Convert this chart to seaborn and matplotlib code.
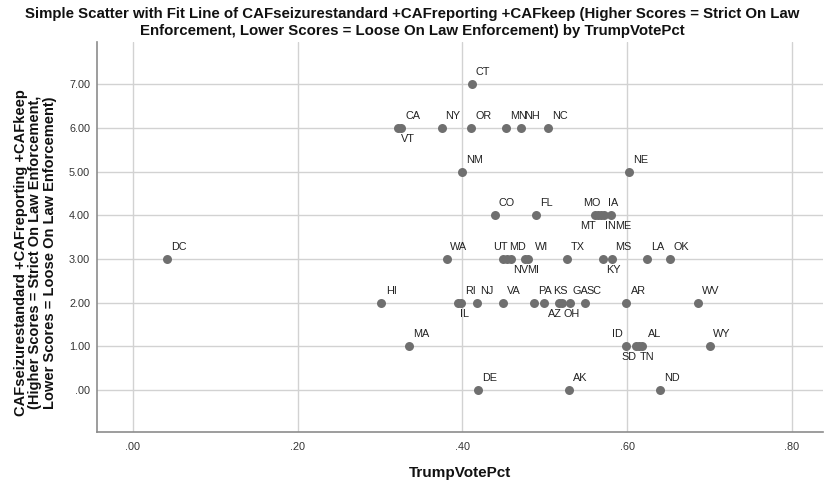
import matplotlib
matplotlib.use("Agg")
import matplotlib.pyplot as plt
import seaborn as sns
import pandas as pd
from matplotlib.ticker import FuncFormatter

states = ["CT",
          "CA", "VT", "NY", "OR", "MN", "NH", "NC",
          "NM", "NE",
          "CO", "FL", "MO", "MT", "IN", "ME", "IA",
          "DC", "WA", "UT", "NV", "MD", "MI", "WI", "TX", "KY", "MS", "LA", "OK",
          "HI", "IL", "RI", "NJ", "VA", "PA", "AZ", "KS", "OH", "GA", "SC", "AR", "WV",
          "MA", "ID", "SD", "TN", "AL", "WY",
          "DE", "AK", "ND"]
trump_pct = [0.4115,
             0.3260, 0.3220, 0.3748, 0.4108, 0.4536, 0.4714, 0.5046,
             0.3998, 0.6020,
             0.4394, 0.4900, 0.5609, 0.5645, 0.5682, 0.5718, 0.5803,
             0.0413, 0.3816, 0.4492, 0.4540, 0.4589, 0.4759, 0.4795, 0.5265, 0.5710, 0.5823, 0.6240, 0.6520,
             0.3010, 0.3945, 0.3982, 0.4172, 0.4496, 0.4867, 0.4989, 0.5170, 0.5210, 0.5306, 0.5487, 0.5990, 0.6860,
             0.3350, 0.5993, 0.6106, 0.6143, 0.6180, 0.7005,
             0.4188, 0.5290, 0.6398]
caf_score = [7,
             6, 6, 6, 6, 6, 6, 6,
             5, 5,
             4, 4, 4, 4, 4, 4, 4,
             3, 3, 3, 3, 3, 3, 3, 3, 3, 3, 3, 3,
             2, 2, 2, 2, 2, 2, 2, 2, 2, 2, 2, 2, 2,
             1, 1, 1, 1, 1, 1,
             0, 0, 0]

x_ticks = [0.0, 0.2, 0.4, 0.6, 0.8]
y_ticks = [0, 1, 2, 3, 4, 5, 6, 7]

title = ("Simple Scatter with Fit Line of CAFseizurestandard +CAFreporting +CAFkeep (Higher Scores = Strict On Law\n"
         "Enforcement, Lower Scores = Loose On Law Enforcement) by TrumpVotePct")
y_label = ("CAFseizurestandard +CAFreporting +CAFkeep\n(Higher Scores = Strict On Law Enforcement,\n"
           "Lower Scores = Loose On Law Enforcement)")
x_label = "TrumpVotePct"

# label placement (pixel offsets of label's left edge from point; 'a' above, 'b' below)
label_pos = {
    "CT": (4, "a"), "CA": (4, "a"), "VT": (3, "b"), "NY": (4, "a"), "OR": (4, "a"),
    "MN": (4, "a"), "NH": (3, "a"), "NC": (4, "a"), "NM": (4, "a"), "NE": (4, "a"),
    "CO": (4, "a"), "FL": (4, "a"), "MO": (-12, "a"), "MT": (-18, "b"), "IN": (4, "b"),
    "ME": (11, "b"), "IA": (-3, "a"),
    "DC": (4, "a"), "WA": (3, "a"), "UT": (-10, "a"), "NV": (6, "b"), "MD": (-2, "a"),
    "MI": (2, "b"), "WI": (7, "a"), "TX": (4, "a"), "KY": (3, "b"), "MS": (3, "a"),
    "LA": (4, "a"), "OK": (4, "a"),
    "HI": (5, "a"), "IL": (2, "b"), "RI": (4, "a"), "NJ": (4, "a"), "VA": (4, "a"),
    "PA": (4, "a"), "AZ": (4, "b"), "KS": (-6, "a"), "OH": (2, "b"), "GA": (3, "a"),
    "SC": (2, "a"), "AR": (5, "a"), "WV": (4, "a"),
    "MA": (4, "a"), "ID": (-14, "a"), "SD": (-14, "b"), "TN": (1, "b"), "AL": (6, "a"),
    "WY": (3, "a"),
    "DE": (4, "a"), "AK": (4, "a"), "ND": (4, "a"),
}

df = pd.DataFrame({"state": states, "TrumpVotePct": trump_pct, "CAF": caf_score})

sns.set_theme(style="white")
plt.rcParams["font.family"] = ["Liberation Sans", "DejaVu Sans"]

fig = plt.figure(figsize=(8.25, 4.83), dpi=100)
ax = fig.add_axes([97 / 825, 1 - 432 / 483, (823 - 97) / 825, (432 - 42) / 483])

ax.set_xlim(-0.0437, 0.838)
ax.set_ylim(-0.96, 7.97)
ax.set_xticks(x_ticks)
ax.set_yticks(y_ticks)
ax.xaxis.set_major_formatter(FuncFormatter(lambda v, p: f"{v:.2f}".replace("0.", ".", 1)))
ax.yaxis.set_major_formatter(FuncFormatter(lambda v, p: ".00" if v == 0 else f"{v:.2f}"))
ax.grid(True, color="#d2d2d2", linewidth=1.0)
ax.set_axisbelow(True)

sns.scatterplot(data=df, x="TrumpVotePct", y="CAF", ax=ax, color="#6f6f6f",
                s=42, linewidth=0, zorder=3, legend=False)

for s, xv, yv in zip(states, trump_pct, caf_score):
    dx, where = label_pos[s]
    dy = 12 if where == "a" else -11
    ax.annotate(s, (xv, yv), xytext=(dx, dy), textcoords="offset pixels",
                ha="left", va="center", fontsize=7.8, color="#222222", zorder=4)

for side in ["top", "right"]:
    ax.spines[side].set_visible(False)
for side in ["left", "bottom"]:
    ax.spines[side].set_color("#8c8c8c")
    ax.spines[side].set_linewidth(1.2)

ax.tick_params(axis="both", length=0, labelsize=7.8, colors="#333333")
ax.tick_params(axis="y", pad=5)
ax.tick_params(axis="x", pad=7)

ax.set_xlabel(x_label, fontsize=11, fontweight="bold", color="#111111")
ax.xaxis.set_label_coords(0.5, -0.104)
ax.xaxis.label.set_va("center")
ax.set_ylabel(y_label, fontsize=10.5, fontweight="bold", color="#111111", linespacing=1.05)
ax.yaxis.set_label_coords(-0.085, 0.46)
ax.yaxis.label.set_va("center")
fig.text(0.5, 1 - 22.5 / 483, title, ha="center", va="center", fontsize=10.8,
         fontweight="bold", linespacing=1.25, color="#111111")

fig.savefig("out.png", dpi=100)
